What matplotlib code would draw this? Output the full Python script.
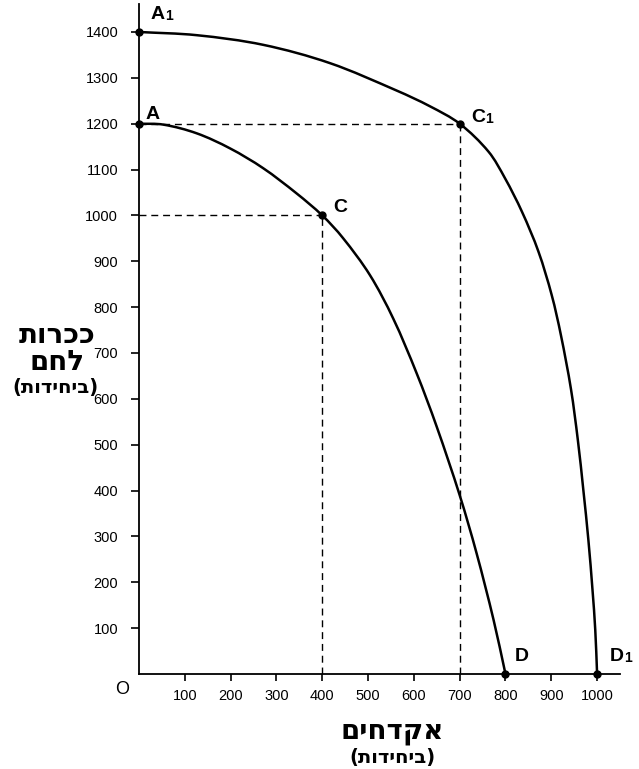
import matplotlib
matplotlib.use("Agg")
import matplotlib.pyplot as plt
import numpy as np
from matplotlib.path import Path
from matplotlib.patches import PathPatch

plt.rcParams["font.family"] = ["Liberation Sans", "DejaVu Sans"]

# inner frontier A-C-D
inner_x = [0, 53, 126, 199, 271, 344, 400, 445, 504, 555, 606, 650, 700, 737, 774, 800]
inner_y = [1200, 1198, 1179, 1146, 1103, 1048, 1000, 951, 870, 775, 656, 539, 390, 263, 118, 0]

# outer frontier A1-C1-D1
outer_x = [0, 126, 271, 417, 563, 635, 700, 763, 799, 836, 872, 901, 921, 943, 958, 970, 981, 990, 996, 1000]
outer_y = [1400, 1393, 1372, 1332, 1272, 1238, 1200, 1139, 1081, 1008, 921, 826, 739, 621, 510, 401, 292, 183, 96, 0]

# labelled points
point_names = ["A", "C", "D", "A", "C", "D"]
point_subs = ["", "", "", "1", "1", "1"]
point_x = [0, 400, 800, 0, 700, 1000]
point_y = [1200, 1000, 0, 1400, 1200, 0]

# dashed guides from C and C1
guide_x = [400, 700]
guide_y = [1000, 1200]

x_ticks = list(range(100, 1001, 100))
y_ticks = list(range(100, 1401, 100))

y_label_lines = ["ככרות", "לחם"]
x_label = "אקדחים"
unit_label = "(ביחידות)"

HEB = ["DejaVu Sans"]


def visual(s):
    # matplotlib has no bidi support: flip Hebrew to visual order
    out = s[::-1]
    return out.replace("(", "\0").replace(")", "(").replace("\0", ")")


def smooth_path(xs, ys):
    # cubic bezier segments through the read points (drawing only)
    p = np.column_stack([xs, ys]).astype(float)
    d = np.hypot(*np.diff(p, axis=0).T)
    t = np.zeros_like(p)
    t[0] = (p[1] - p[0]) / d[0]
    t[-1] = (p[-1] - p[-2]) / d[-1]
    for i in range(1, len(p) - 1):
        t[i] = (p[i + 1] - p[i - 1]) / (d[i - 1] + d[i])
    verts = [p[0]]
    codes = [Path.MOVETO]
    for i in range(len(p) - 1):
        verts += [p[i] + t[i] * d[i] / 3, p[i + 1] - t[i + 1] * d[i] / 3, p[i + 1]]
        codes += [Path.CURVE4] * 3
    return Path(verts, codes)


fig = plt.figure(figsize=(6.39, 7.69), dpi=100)
ax = fig.add_axes([139 / 639, 95 / 769, 481 / 639, 670 / 769])
ax.set_xlim(0, 1050)
ax.set_ylim(0, 1461)

for side in ("top", "right"):
    ax.spines[side].set_visible(False)
for side in ("left", "bottom"):
    ax.spines[side].set_linewidth(1.3)

ax.set_xticks(x_ticks)
ax.set_yticks(y_ticks)
ax.tick_params(axis="both", direction="out", width=1.2, labelsize=10.5)
ax.tick_params(axis="y", length=6, pad=9)
ax.tick_params(axis="x", length=5, pad=6)

for gx, gy in zip(guide_x, guide_y):
    ax.plot([0, gx], [gy, gy], color="black", lw=1.0, ls=(0, (5, 3.5)))
    ax.plot([gx, gx], [0, gy], color="black", lw=1.0, ls=(0, (5, 3.5)))

for xs, ys in ((inner_x, inner_y), (outer_x, outer_y)):
    ax.add_patch(PathPatch(smooth_path(xs, ys), fill=False, edgecolor="black",
                           lw=1.8, capstyle="round", zorder=3))
ax.plot(point_x, point_y, "o", color="black", markersize=5, clip_on=False, zorder=5)

# label offsets in points (dx, dy) for A, C, D, A1, C1, D1
label_offsets = [(4.5, 0.5), (8, -0.5), (7, 6.5), (8, 6.5), (8, -1.5), (9, 6.5)]
for name, sub, px, py, (dx, dy) in zip(point_names, point_subs, point_x, point_y, label_offsets):
    ax.annotate(name, xy=(px, py), xytext=(dx, dy), textcoords="offset points",
                fontsize=14, fontweight="bold", ha="left", va="bottom")
    if sub:
        ax.annotate(sub, xy=(px, py), xytext=(dx + 10.5, dy), textcoords="offset points",
                    fontsize=10, fontweight="bold", ha="left", va="bottom")

fig.text(122 / 639, 1 - 690 / 769, "O", fontsize=13, ha="center", va="center")

fig.text(57 / 639, 1 - 335 / 769, visual(y_label_lines[0]), fontsize=20, family=HEB,
         fontweight="bold", ha="center", va="center")
fig.text(57 / 639, 1 - 362 / 769, visual(y_label_lines[1]), fontsize=20, family=HEB,
         fontweight="bold", ha="center", va="center")
fig.text(55 / 639, 1 - 387 / 769, visual(unit_label), fontsize=14, family=HEB,
         fontweight="bold", ha="center", va="center")

fig.text(392 / 639, 1 - 731 / 769, visual(x_label), fontsize=20, family=HEB,
         fontweight="bold", ha="center", va="center")
fig.text(392 / 639, 1 - 757 / 769, visual(unit_label), fontsize=14, family=HEB,
         fontweight="bold", ha="center", va="center")

fig.savefig("out.png", dpi=100)
